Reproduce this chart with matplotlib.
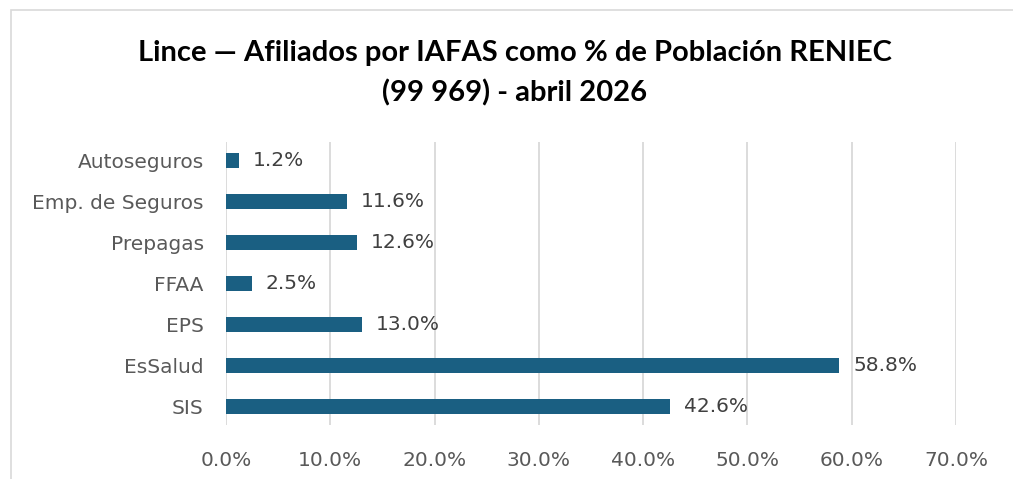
import matplotlib.pyplot as plt
from matplotlib.patches import Rectangle
from matplotlib.ticker import FuncFormatter, MultipleLocator

# Data (bottom to top)
categories = ['SIS', 'EsSalud', 'EPS', 'FFAA', 'Prepagas', 'Emp. de Seguros', 'Autoseguros']
values = [42.6, 58.8, 13.0, 2.5, 12.6, 11.6, 1.2]
title = 'Lince — Afiliados por IAFAS como % de Población RENIEC\n(99 969) - abril 2026'

bar_color = '#1a5f82'
text_color = '#595959'
font = 'DejaVu Sans'

fig = plt.figure(figsize=(10.13, 4.79), dpi=100)
ax = fig.add_axes([226 / 1013, 1 - 425 / 479, 730 / 1013, 283 / 479])

ypos = range(len(categories))
ax.barh(ypos, values, height=0.36, color=bar_color, zorder=3)
for y, v in zip(ypos, values):
    ax.annotate(f'{v:.1f}%', (v, y), xytext=(10, 0), textcoords='offset points',
                va='center', ha='left', fontsize=14.5, color='#404040', family=font)

ax.set_xlim(0, 70)
ax.set_ylim(-0.45, 6.45)
ax.set_yticks(list(ypos))
ax.set_yticklabels(categories)
ax.xaxis.set_major_locator(MultipleLocator(10))
ax.xaxis.set_major_formatter(FuncFormatter(lambda x, _: f'{x:.1f}%'))
ax.tick_params(axis='both', length=0, labelsize=14.5, labelcolor=text_color)
ax.tick_params(axis='x', pad=19)
ax.tick_params(axis='y', pad=16)
for lab in ax.get_xticklabels() + ax.get_yticklabels():
    lab.set_family(font)
ax.grid(axis='x', color='#d9d9d9', linewidth=1.3, zorder=0)
for s in ax.spines.values():
    s.set_visible(False)

fig.text(0.508, 0.916, title, ha='center', va='top', fontsize=21, fontweight='bold',
         family='Lato', color='black', linespacing=1.57)

# light frame of the chart area
fig.patches.append(Rectangle((11 / 1013, -0.1), 1.2, 1 - 10 / 479 + 0.1,
                             transform=fig.transFigure, fill=False,
                             edgecolor='#d9d9d9', linewidth=1.2))

fig.savefig('out.png', dpi=100)
